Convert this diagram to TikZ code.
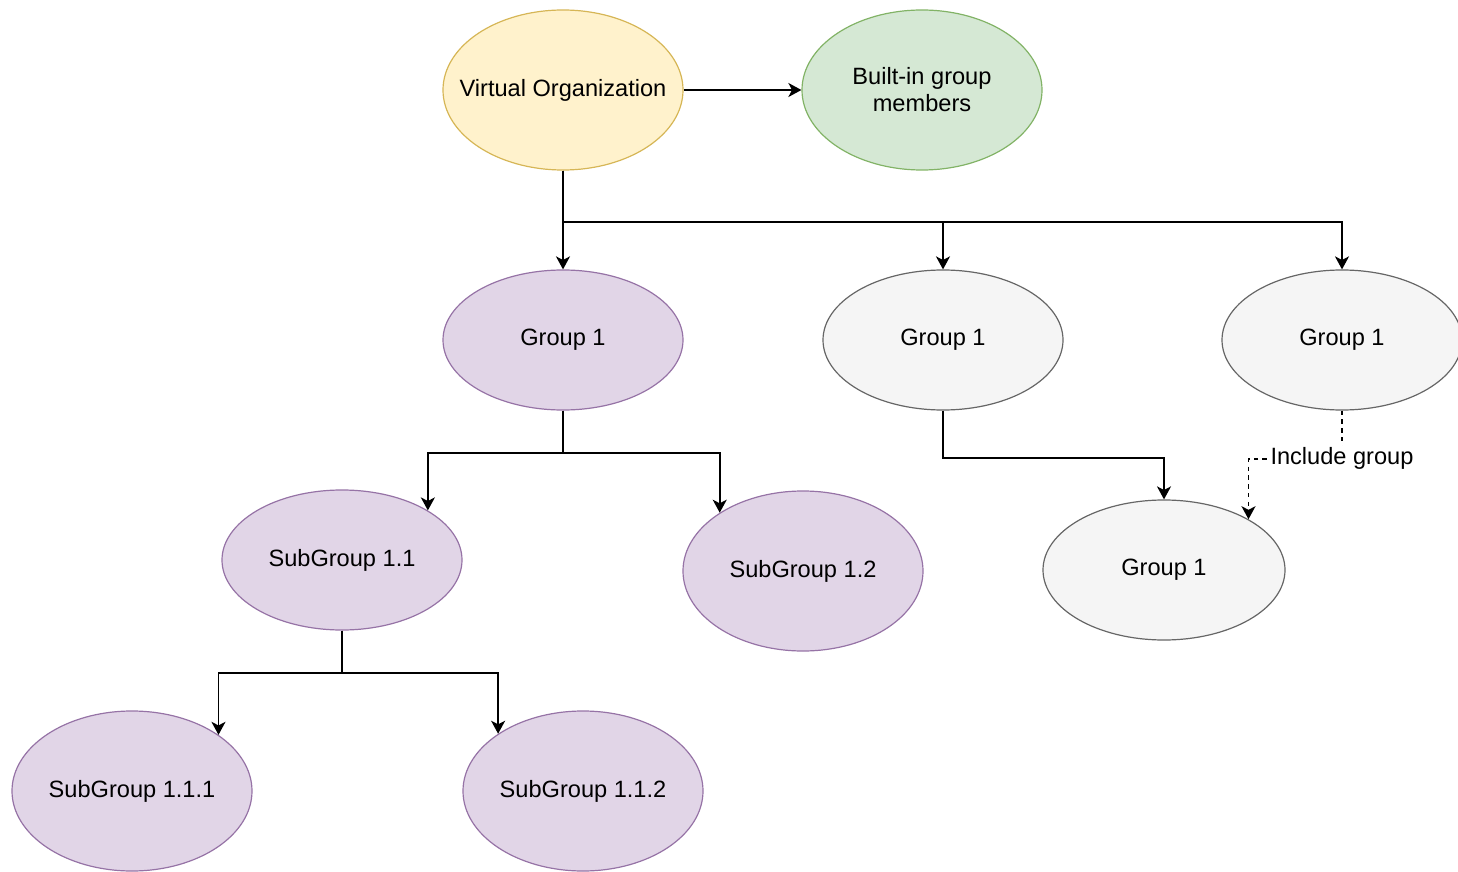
\documentclass[tikz,border=0pt]{standalone}
\usepackage{fontspec}
\setmainfont{Liberation Sans}
\usetikzlibrary{shapes.geometric,arrows.meta}
\definecolor{yfill}{HTML}{FFF2CC}
\definecolor{ydraw}{HTML}{D6B656}
\definecolor{gfill}{HTML}{D5E8D4}
\definecolor{gdraw}{HTML}{82B366}
\definecolor{pfill}{HTML}{E1D5E7}
\definecolor{pdraw}{HTML}{9673A6}
\definecolor{nfill}{HTML}{F5F5F5}
\definecolor{ndraw}{HTML}{666666}
\tikzset{
  blob/.style={ellipse, inner sep=0pt, minimum width=120pt, minimum height=70pt,
    line width=0.6pt, align=center, font=\fontsize{11.8}{13.5}\selectfont},
  tall/.style={minimum height=80pt},
  vostyle/.style={blob, tall, fill=yfill, draw=ydraw},
  bistyle/.style={blob, tall, fill=gfill, draw=gdraw},
  purple/.style={blob, fill=pfill, draw=pdraw},
  grey/.style={blob, fill=nfill, draw=ndraw},
  conn/.style={line width=0.95pt, -{Stealth[length=6.5pt, width=7pt, inset=1.8pt]}},
  dashconn/.style={conn, dash pattern=on 2.2pt off 2.2pt},
  edgelabel/.style={fill=white, inner sep=1pt, font=\fontsize{11.8}{13.5}\selectfont}
}
\begin{document}
\begin{tikzpicture}[x=0.5pt, y=-0.5pt]
\useasboundingbox (0,0) rectangle (1458,872);

% top level (the long label is boxed narrower so the ellipse keeps its size)
\node[vostyle] (vo) at (563,90) {\makebox[60pt]{Virtual Organization}};
\node[bistyle] (bi) at (922,90) {Built-in group\\members};

% groups
\node[purple] (g1a) at (563,340) {Group 1};
\node[grey]   (g1b) at (943,340) {Group 1};
\node[grey]   (g1c) at (1342,340) {Group 1};

% second level
\node[purple] (sg11) at (342,560) {SubGroup 1.1};
\node[purple, tall] (sg12) at (803,571) {SubGroup 1.2};
\node[grey, minimum width=121pt] (g1d) at (1164,570) {Group 1};

% third level
\node[purple, tall] (sg111) at (132,791) {SubGroup 1.1.1};
\node[purple, tall] (sg112) at (583,791) {SubGroup 1.1.2};

% connectors
\draw[conn] (vo) -- (bi);
\draw[conn] (vo.south) -- (g1a.north);
\draw[conn] (vo.south) -- ++(0,51) -| (g1b.north);
\draw[conn] (vo.south) -- ++(0,51) -| (g1c.north);

\draw[conn] (g1a.south) -- ++(0,42) -| (sg11.30);
\draw[conn] (g1a.south) -- ++(0,42) -| (sg12.145.8);

\draw[conn] (sg11.south) -- ++(0,42) -| (sg111.33.6);
\draw[conn] (sg11.south) -- ++(0,42) -| (sg112.146.4);

\draw[conn] (g1b.south) -- ++(0,47) -| (g1d.north);
\draw[dashconn] (g1c.south) -- ++(0,48) node[edgelabel] (inc) {Include group} -| (g1d.31.6);
\end{tikzpicture}
\end{document}
